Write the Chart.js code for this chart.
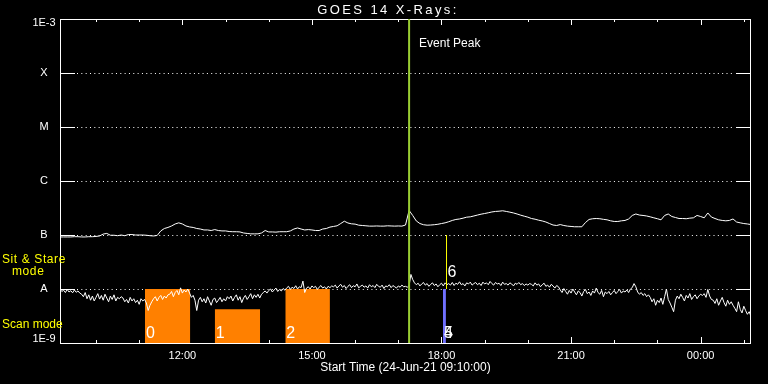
<!DOCTYPE html>
<html>
<head>
<meta charset="utf-8">
<script src="https://cdn.jsdelivr.net/npm/chart.js@4.4.0/dist/chart.umd.min.js"></script>
<style>
  html, body { margin: 0; padding: 0; background: #000; }
  #wrap { width: 768px; height: 384px; }
</style>
</head>
<body>
<div id="wrap"><canvas id="goesChart" width="768" height="384"></canvas></div>
<script>
// GOES 14 X-ray flux, 24-Jun-21 09:10 -> 25-Jun-21 01:10
const startTime = '09:10';
const endTime = '01:10';
const longCadenceMin = 5;     // 1-8 A channel, one value every 5 min
const shortCadenceMin = 2.5;  // 0.5-4 A channel, one value every 2.5 min

// 1-8 A flux, units of 1e-7 W/m2 (B level)
const longFlux = [
  0.92,0.92,0.92,0.92,0.93,0.93,0.92,0.92,0.93,0.93,
  0.94,0.96,1.04,1.07,0.99,0.99,0.97,1.00,0.97,1.02,
  1.02,1.00,1.00,1.00,0.99,0.97,0.96,0.98,1.19,1.32,
  1.38,1.47,1.60,1.68,1.60,1.47,1.41,1.38,1.32,1.29,
  1.24,1.24,1.21,1.26,1.21,1.19,1.19,1.16,1.15,1.15,
  1.14,1.09,1.07,1.05,1.05,1.05,1.09,1.21,1.14,1.14,
  1.13,1.15,1.15,1.15,1.19,1.29,1.35,1.29,1.24,1.26,
  1.24,1.21,1.21,1.29,1.32,1.40,1.44,1.48,1.63,1.80,
  1.67,1.61,1.59,1.52,1.50,1.48,1.46,1.46,1.47,1.46,
  1.46,1.48,1.47,1.46,1.47,1.46,1.53,2.85,2.30,1.82,
  1.63,1.55,1.52,1.53,1.55,1.58,1.63,1.68,1.76,1.86,
  1.94,1.98,2.05,2.14,2.17,2.25,2.34,2.43,2.50,2.58,
  2.67,2.73,2.76,2.81,2.73,2.65,2.56,2.45,2.33,2.23,
  2.14,2.02,1.96,1.88,1.82,1.74,1.63,1.53,1.50,1.56,
  1.50,1.46,1.44,1.42,1.42,1.42,1.70,1.94,2.00,2.02,
  2.00,1.95,1.91,1.83,1.78,1.78,1.83,1.86,1.98,2.30,
  2.45,2.34,2.30,2.25,2.17,2.08,2.00,1.91,2.30,2.45,
  2.20,2.11,2.02,2.02,2.00,2.05,2.08,2.30,2.20,2.08,
  2.56,2.15,2.02,1.91,1.86,1.83,1.86,1.98,1.74,1.68,
  1.63,1.60,1.56
];

// 0.5-4 A flux, units of 1e-8 W/m2 (A level)
const shortFlux = [
  1.0,0.9,0.95,0.86,0.98,0.88,0.93,0.85,0.96,0.87,0.92,0.84,
  0.8,0.72,0.86,0.66,0.78,0.62,0.74,0.6,0.7,0.82,0.65,
  0.76,0.62,0.8,0.68,0.58,0.74,0.64,0.78,0.6,0.7,0.66,0.72,
  0.68,0.58,0.64,0.55,0.7,0.6,0.66,0.56,0.62,0.52,0.66,0.6,0.64,
  0.55,0.4,0.5,0.58,
  0.66,0.72,0.6,0.7,0.76,0.64,0.74,0.68,0.78,
  0.8,0.9,0.72,0.86,0.94,0.78,1.05,0.84,0.96,0.88,1.0,
  0.84,0.7,0.76,0.62,0.4,
  0.62,0.7,0.58,0.66,0.55,0.72,0.6,0.5,0.64,0.68,0.56,0.62,0.7,0.58,0.66,0.6,0.72,
  0.66,0.74,0.6,0.7,0.78,0.62,0.72,0.56,0.68,0.76,0.64,0.72,0.82,0.66,0.78,0.7,0.8,
  0.68,0.8,0.86,0.92,0.84,
  0.94,1.0,0.88,0.96,1.04,0.9,0.98,0.92,1.02,0.95,
  1.05,1.12,0.98,1.08,1.02,1.15,1.0,1.1,1.06,1.4,0.86,1.04,1.1,1.0,1.14,1.06,1.12,0.98,1.08,1.16,1.04,1.1,1.0,1.12,1.06,1.14,
  1.1,1.18,1.04,1.14,1.22,1.08,1.16,1.02,1.12,1.2,1.06,1.15,1.1,1.24,1.05,1.12,1.18,1.08,1.14,1.04,
  1.2,1.1,1.16,1.06,1.22,1.12,1.08,1.18,1.02,1.14,1.1,1.2,1.06,1.16,1.1,1.04,1.14,1.08,1.18,1.1,1.12,1.08,
  1.15,1.86,1.5,1.3,
  1.2,1.28,1.14,1.24,1.32,1.18,1.26,1.12,1.22,1.3,1.16,1.24,1.1,1.2,1.28,1.14,1.3,1.2,
  1.26,1.18,1.32,1.16,1.28,1.22,1.36,1.2,1.26,1.14,1.3,1.24,1.34,1.18,1.26,1.32,1.2,1.28,1.16,1.34,
  1.24,1.3,1.2,1.38,1.26,1.18,1.32,1.24,1.28,1.16,1.34,1.22,1.26,1.18,1.3,1.24,1.14,1.28,1.22,1.32,
  1.2,1.26,1.16,1.24,1.18,1.26,
  1.22,1.14,1.3,1.18,1.24,1.1,1.2,1.28,1.12,1.18,1.08,1.22,1.14,1.04,1.16,1.1,
  0.96,0.86,1.02,0.9,0.8,0.94,0.84,1.0,0.88,0.78,0.92,0.86,0.74,0.9,0.98,0.82,0.88,0.76,0.92,0.84,
  1.04,0.86,0.8,0.94,0.72,0.88,0.82,0.9,0.78,
  0.86,0.94,0.82,0.9,0.98,0.84,0.92,0.88,0.96,0.86,1.0,1.06,
  1.26,1.1,
  0.88,0.8,0.86,0.76,0.82,0.72,0.78,
  0.7,0.58,0.66,0.5,0.62,0.56,0.68,0.52,0.72,1.0,0.64,0.55,0.46,0.38,
  0.62,0.74,0.66,0.8,0.7,0.6,0.76,0.68,0.82,0.64,0.72,0.78,0.66,0.74,0.8,
  0.76,0.82,0.7,0.98,0.74,0.64,
  0.62,0.54,0.66,0.5,0.6,0.7,0.56,0.48,0.62,0.52,0.58,
  0.5,0.44,0.38,0.58,0.42,0.36,0.48,0.4,0.34,0.38,0.31
];

const yTickValues = [1e-9, 1e-8, 1e-7, 1e-6, 1e-5, 1e-4, 1e-3];
const yTickLabels = ['1E-9', 'A', 'B', 'C', 'M', 'X', '1E-3'];
const xTickTimes = ['12:00', '15:00', '18:00', '21:00', '00:00'];

// scan mode observations
const scanLabels = ['0', '1', '2', '4', '5'];
const scanStart = ['11:08', '12:45', '14:23', '18:02', '18:02'];
const scanEnd = ['12:11', '13:48', '15:25', '18:06', '18:06'];
const scanTop = [1e-8, 4.2e-9, 1e-8, 1e-8, 1e-8];
const scanColors = ['#ff8000', '#ff8000', '#ff8000', '#7070ff', '#7070ff'];

// sit & stare observations
const stareLabels = ['6'];
const stareTime = ['18:07'];
const stareLow = [1e-8];
const stareHigh = [1e-7];

const eventPeakTime = '17:15';

const FONT = '"Liberation Sans", Arial, sans-serif';

function toHours(t) {
    const [h, m] = t.split(':').map(Number);
    const v = h + m / 60;
    return v < 9 ? v + 24 : v; // after midnight -> next day
}

const t0 = toHours(startTime);
const longData = longFlux.map((v, i) => ({ x: t0 + i * longCadenceMin / 60, y: v * 1e-7 }));
const shortData = shortFlux.map((v, i) => ({ x: t0 + i * shortCadenceMin / 60, y: v * 1e-8 }));

const datasets = [];
// event peak line
const evX = toHours(eventPeakTime);
datasets.push({ data: [{ x: evX, y: 1e-9 }, { x: evX, y: 1e-3 }], borderColor: '#9acd32', borderWidth: 2 });
// sit & stare markers
stareTime.forEach((t, i) => {
    const x = toHours(t);
    datasets.push({ data: [{ x, y: stareLow[i] }, { x, y: stareHigh[i] }], borderColor: '#ffff00', borderWidth: 1 });
});
// flux curves
datasets.push({ data: longData, borderColor: '#ffffff', borderWidth: 1 });
datasets.push({ data: shortData, borderColor: '#ffffff', borderWidth: 1 });
// scan boxes
scanLabels.forEach((lab, i) => {
    const s = toHours(scanStart[i]), e = toHours(scanEnd[i]);
    datasets.push({
        data: [{ x: s, y: 1e-9 }, { x: s, y: scanTop[i] }, { x: e, y: scanTop[i] }, { x: e, y: 1e-9 }],
        borderWidth: 0, borderColor: 'rgba(0,0,0,0)',
        backgroundColor: scanColors[i], fill: 'start'
    });
});

// frame, hour ticks and dotted level lines
const framePlugin = {
    id: 'frame',
    beforeDatasetsDraw(chart) {
        const { ctx, chartArea: a, scales: { x, y } } = chart;
        ctx.save();
        ctx.strokeStyle = '#ffffff';
        ctx.lineWidth = 1;
        ctx.strokeRect(a.left + 0.5, a.top + 0.5, a.right - a.left - 1, a.bottom - a.top);

        // hourly ticks top and bottom, longer every 3 hours
        ctx.beginPath();
        for (let h = Math.ceil(x.min); h <= x.max; h++) {
            const px = Math.round(x.getPixelForValue(h)) + 0.5;
            const len = h % 3 === 0 ? 6 : 3;
            ctx.moveTo(px, a.bottom); ctx.lineTo(px, a.bottom - len);
            ctx.moveTo(px, a.top); ctx.lineTo(px, a.top + len);
        }
        ctx.stroke();

        // level ticks + dotted lines
        yTickValues.slice(1, -1).forEach(v => {
            const py = Math.round(y.getPixelForValue(v)) + 0.5;
            ctx.setLineDash([]);
            ctx.beginPath();
            ctx.moveTo(a.left, py); ctx.lineTo(a.left + 15, py);
            ctx.moveTo(a.right - 15, py); ctx.lineTo(a.right, py);
            ctx.stroke();
            ctx.setLineDash([1, 3.33]);
            ctx.beginPath();
            ctx.moveTo(a.left + 17, py); ctx.lineTo(a.right - 16, py);
            ctx.stroke();
        });
        ctx.restore();
    },
    afterDraw(chart) {
        const { ctx, chartArea: a, scales: { x, y } } = chart;
        ctx.save();
        ctx.fillStyle = '#ffffff';

        // y level labels
        ctx.font = '11px ' + FONT;
        ctx.textAlign = 'center';
        ctx.textBaseline = 'middle';
        yTickValues.forEach((v, i) => {
            let py = y.getPixelForValue(v);
            py = Math.min(Math.max(py, a.top + 4), a.bottom - 4);
            ctx.fillText(yTickLabels[i], 44, py);
        });

        // title
        ctx.textBaseline = 'alphabetic';
        ctx.font = '13px ' + FONT;
        ctx.letterSpacing = '2.4px';
        ctx.fillText('GOES 14 X-Rays:', 388, 14);
        ctx.letterSpacing = '0px';

        // x axis title
        ctx.font = '12px ' + FONT;
        ctx.fillText('Start Time (24-Jun-21 09:10:00)', (a.left + a.right) / 2, 371);

        // event peak
        ctx.textAlign = 'left';
        ctx.fillText('Event Peak', x.getPixelForValue(evX) + 10, 47);

        // mode labels
        ctx.fillStyle = '#ffff00';
        ctx.letterSpacing = '0.6px';
        ctx.fillText('Sit & Stare', 2, 263);
        ctx.fillText('mode', 12, 275);
        ctx.letterSpacing = '0px';
        ctx.fillText('Scan mode', 2, 328);

        // observation numbers
        ctx.fillStyle = '#ffffff';
        ctx.font = '16px ' + FONT;
        scanLabels.forEach((lab, i) => {
            ctx.fillText(lab, x.getPixelForValue(toHours(scanStart[i])) + 1, a.bottom - 5);
        });
        stareLabels.forEach((lab, i) => {
            ctx.fillText(lab, x.getPixelForValue(toHours(stareTime[i])) + 1, 277);
        });
        ctx.restore();
    }
};

new Chart(document.getElementById('goesChart'), {
    type: 'line',
    data: { datasets },
    options: {
        responsive: false,
        animation: false,
        events: [],
        layout: { padding: { top: 19, right: 17, left: 0, bottom: 0 } },
        elements: { point: { radius: 0 }, line: { tension: 0 } },
        plugins: { legend: { display: false }, tooltip: { enabled: false } },
        scales: {
            x: {
                type: 'linear',
                min: toHours(startTime),
                max: toHours(endTime),
                grid: { display: false, drawTicks: false },
                border: { display: false },
                afterBuildTicks: s => { s.ticks = xTickTimes.map(t => ({ value: toHours(t) })); },
                afterFit: s => { s.height = 41; },
                ticks: {
                    color: '#ffffff', font: { family: FONT, size: 11 }, padding: 6,
                    maxRotation: 0, autoSkip: false,
                    callback: (v, i) => xTickTimes[i]
                }
            },
            y: {
                type: 'logarithmic',
                min: 1e-9,
                max: 1e-3,
                grid: { display: false },
                border: { display: false },
                ticks: { display: false },
                afterFit: s => { s.width = 60; }
            }
        }
    },
    plugins: [framePlugin]
});
</script>
</body>
</html>
